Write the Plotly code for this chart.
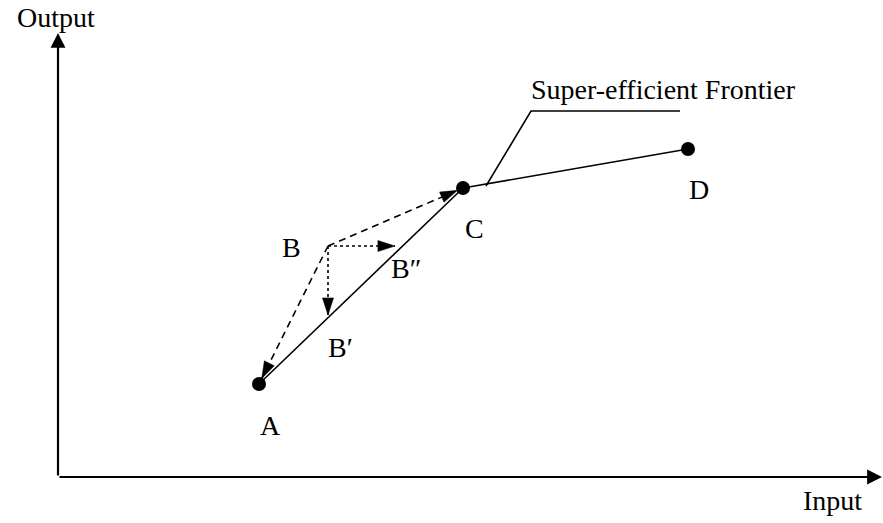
import math
import plotly.graph_objects as go

# ---- data (diagram units) ----
unit_names = ["A", "B", "C", "D"]
unit_x = [20.1, 27.0, 40.5, 63.0]
unit_y = [9.3, 23.1, 28.9, 32.8]

# projections of B
proj_names = ["B′", "B″"]
proj_x = [27.0, 33.7]
proj_y = [16.2, 23.1]

# callout for the frontier label
callout_x = [42.8, 47.3, 62.2]
callout_y = [29.1, 36.6, 36.6]
frontier_label = "Super-efficient Frontier"

axis_x_max = 82.4
axis_y_max = 44.4
x_title = "Input"
y_title = "Output"

FONT = dict(family="Liberation Serif, Times New Roman, serif", size=28, color="black")

P = dict(zip(unit_names, zip(unit_x, unit_y)))
Ax, Ay = P["A"]; Bx, By = P["B"]; Cx, Cy = P["C"]; Dx, Dy = P["D"]

fig = go.Figure()

def line(xs, ys, dash="solid", width=1.6):
    fig.add_trace(go.Scatter(x=xs, y=ys, mode="lines",
                             line=dict(color="black", width=width, dash=dash),
                             hoverinfo="skip", showlegend=False))

def arrow_line(x0, y0, x1, y1, dash, width=1.6, stop=0.0, head=18):
    # line from (x0,y0) towards (x1,y1), ending `stop` units short, with an arrowhead marker
    L = math.hypot(x1 - x0, y1 - y0)
    ex = x1 - (x1 - x0) / L * stop
    ey = y1 - (y1 - y0) / L * stop
    fig.add_trace(go.Scatter(x=[x0, ex], y=[y0, ey], mode="lines",
                             line=dict(color="black", width=width, dash=dash),
                             hoverinfo="skip", showlegend=False))
    fig.add_trace(go.Scatter(x=[x0, ex], y=[y0, ey], mode="markers",
                             marker=dict(symbol="arrow", size=[0, head], color="black",
                                         opacity=1, angleref="previous",
                                         line=dict(width=0.5, color="black")),
                             hoverinfo="skip", showlegend=False))

def axis_arrow(x1, y1):
    fig.add_annotation(x=x1, y=y1, ax=0, ay=0, xref="x", yref="y",
                       axref="x", ayref="y", text="", showarrow=True,
                       arrowhead=2, arrowsize=1.35, arrowwidth=2.2,
                       arrowcolor="black")

# axes
axis_arrow(0, axis_y_max)
axis_arrow(axis_x_max, 0)

# frontier A-C and C-D
line([Ax, Cx], [Ay, Cy])
line([Cx, Dx], [Cy, Dy])

# dashed B->A, B->C
arrow_line(Bx, By, Ax, Ay, dash="7px,5px", stop=0.6)
arrow_line(Bx, By, Cx, Cy, dash="7px,5px", stop=0.6)

# dotted projections
arrow_line(Bx, By, proj_x[0], proj_y[0], dash="dot", head=18)
arrow_line(Bx, By, proj_x[1], proj_y[1], dash="dot", head=18)

# callout
line(callout_x, callout_y)

# DMU points (B has no dot)
dot_x = [x for n, x in zip(unit_names, unit_x) if n != "B"]
dot_y = [y for n, y in zip(unit_names, unit_y) if n != "B"]
fig.add_trace(go.Scatter(x=dot_x, y=dot_y, mode="markers",
                         marker=dict(color="black", size=14),
                         hoverinfo="skip", showlegend=False))

# labels
label_off = {"A": (1.1, -4.1), "B": (-3.7, -0.1), "C": (1.1, -4.0), "D": (1.1, -4.0)}
for n, x, y in zip(unit_names, unit_x, unit_y):
    dx, dy = label_off[n]
    fig.add_annotation(x=x + dx, y=y + dy, text=n, showarrow=False, font=FONT,
                       xanchor="center", yanchor="middle")
fig.add_annotation(x=proj_x[0] + 1.2, y=proj_y[0] - 3.2, text=proj_names[0],
                   showarrow=False, font=FONT, xanchor="center", yanchor="middle")
fig.add_annotation(x=proj_x[1] + 1.1, y=proj_y[1] - 2.2, text=proj_names[1],
                   showarrow=False, font=FONT, xanchor="center", yanchor="middle")
fig.add_annotation(x=callout_x[1] - 0.2, y=callout_y[1] + 2.2, text=frontier_label,
                   showarrow=False, font=FONT, xanchor="left", yanchor="middle")
fig.add_annotation(x=-0.2, y=axis_y_max + 1.6, text=y_title, showarrow=False,
                   font=FONT, xanchor="center", yanchor="middle")
fig.add_annotation(x=77.4, y=-2.3, text=x_title, showarrow=False,
                   font=FONT, xanchor="center", yanchor="middle")

fig.update_layout(
    width=883, height=523,
    margin=dict(l=0, r=0, t=0, b=0),
    paper_bgcolor="white", plot_bgcolor="white",
    xaxis=dict(range=[-5.8, 82.5], visible=False, fixedrange=True),
    yaxis=dict(range=[-4.6, 47.7], visible=False, fixedrange=True),
    showlegend=False,
    hovermode=False,
)

# remove the default 8px page margin so the figure fills the window
fig.write_html("out.html", config={"displayModeBar": False},
               post_script="document.body.style.margin='0px';document.body.style.overflow='hidden';")
